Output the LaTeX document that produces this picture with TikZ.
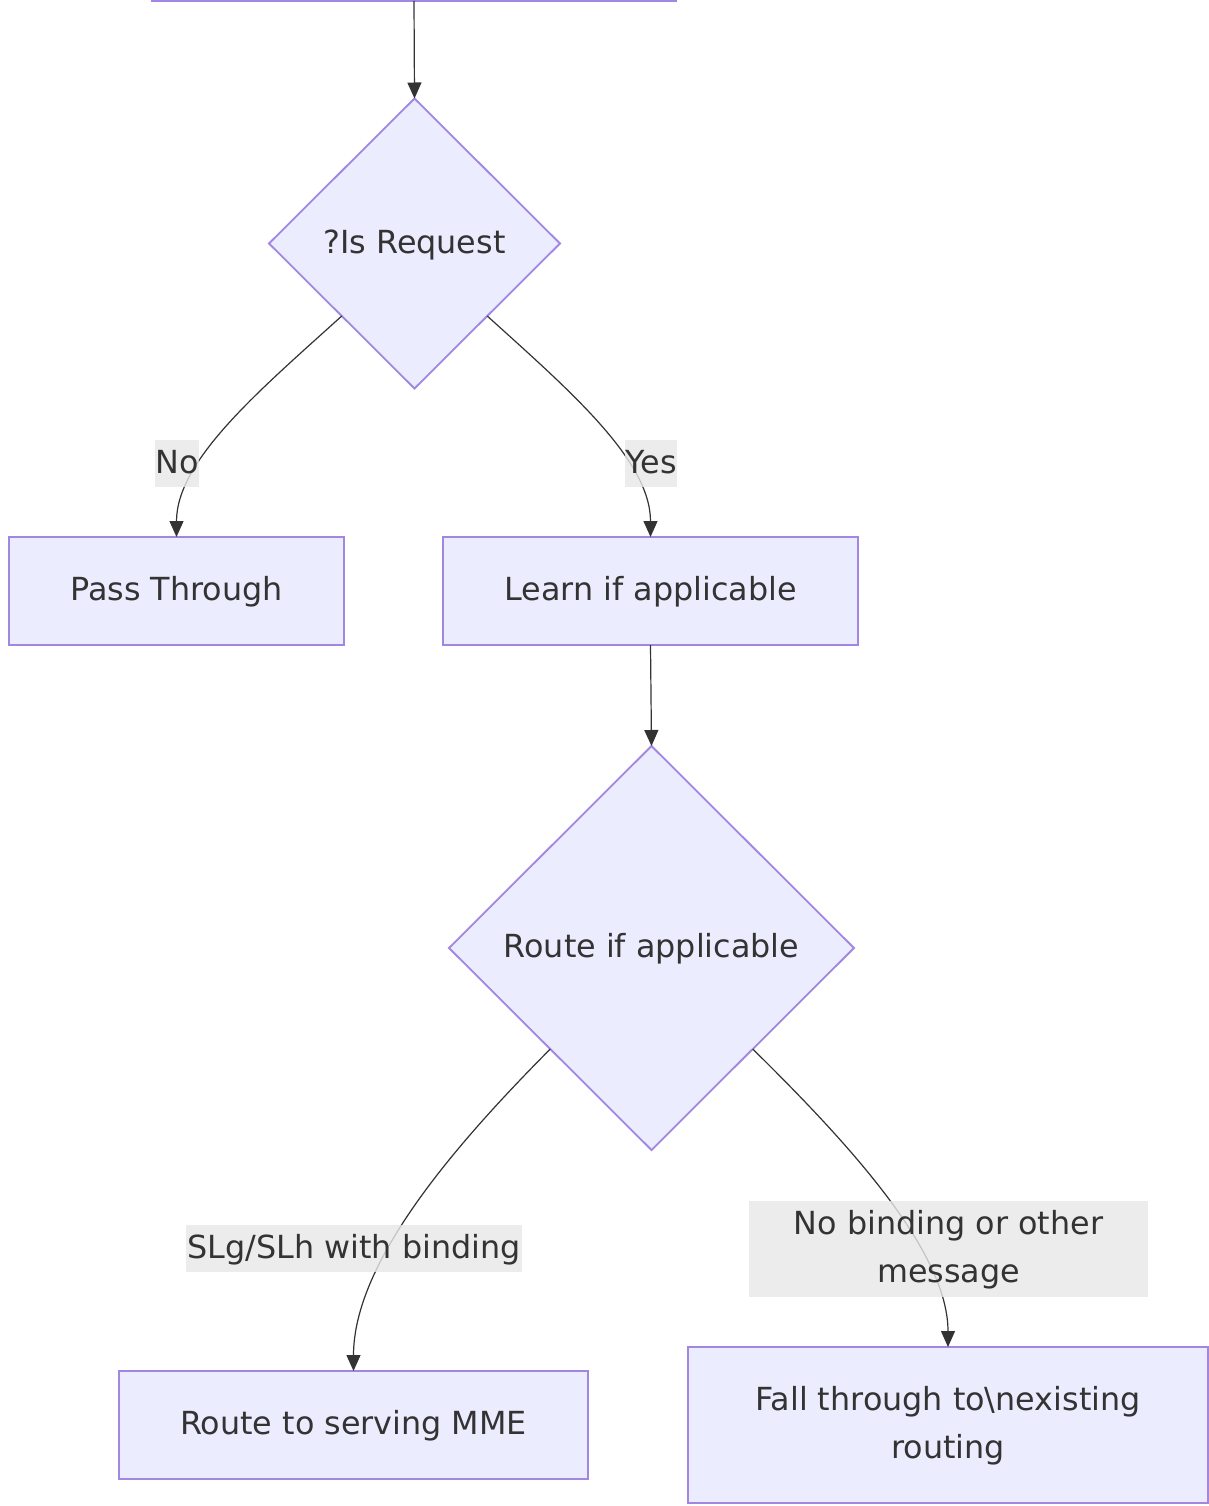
\documentclass[tikz,border=0pt]{standalone}
\usepackage{fontspec}
\setmainfont{DejaVu Sans}
\usetikzlibrary{shapes.geometric,arrows.meta,calc}
\definecolor{nodefill}{HTML}{ECECFF}
\definecolor{nodeline}{HTML}{A287E2}
\definecolor{ink}{HTML}{333333}
\definecolor{lblbg}{HTML}{E8E8E8}
\newcommand{\lowtxt}[1]{\raisebox{-3pt}{\begin{tabular}{@{}c@{}}#1\end{tabular}}}
\tikzset{
  box/.style={draw=nodeline,fill=nodefill,line width=1.8pt,rectangle,inner sep=0pt,outer sep=0pt,align=center,text=ink},
  dia/.style={draw=nodeline,fill=nodefill,line width=1.8pt,diamond,aspect=1,inner sep=0pt,outer sep=0pt,align=center,text=ink},
  arr/.style={draw=ink,line width=1.2pt,-{Triangle[length=16pt,width=14pt]}},
  lbl/.style={fill=lblbg,fill opacity=0.8,text opacity=1,text=ink,inner sep=0pt,outer sep=0pt,align=center},
}
\begin{document}
\begin{tikzpicture}[x=1pt,y=-1pt,font=\fontsize{31.8}{47.6}\selectfont]
\useasboundingbox (0,0) rectangle (1209,1506);
\clip (0,0) rectangle (1209,1506);
\fill[white] (0,0) rectangle (1209,1506);
% nodes
\node[box,minimum width=524pt,minimum height=100pt] (top) at (414,-49) {};
\node[dia,minimum width=291pt,minimum height=290pt] (d1) at (414.5,243.5) {\lowtxt{?Is Request}};
\node[box,minimum width=335pt,minimum height=108pt] (pass) at (176.5,591) {\lowtxt{Pass Through}};
\node[box,minimum width=415pt,minimum height=108pt] (learn) at (650.5,591) {\lowtxt{Learn if applicable}};
\node[dia,minimum width=405pt,minimum height=404pt] (d2) at (651.5,948) {\lowtxt{Route if applicable}};
\node[box,minimum width=469pt,minimum height=108pt] (mme) at (353.5,1425) {\lowtxt{Route to serving MME}};
\node[box,minimum width=520pt,minimum height=156pt] (fall) at (948,1425) {\lowtxt{Fall through to\textbackslash nexisting\\routing}};
% edges
\draw[arr] (top.south) -- (d1.north);
\draw[arr] ($(d1.west)!0.5!(d1.south)$) .. controls (260,390) and (176.5,460) .. (pass.north);
\draw[arr] ($(d1.east)!0.5!(d1.south)$) .. controls (569,390) and (650.5,460) .. (learn.north);
\draw[arr] (learn.south) -- (d2.north);
\draw[arr] ($(d2.west)!0.5!(d2.south)$) .. controls (460,1140) and (353.5,1260) .. (mme.north);
\draw[arr] ($(d2.east)!0.5!(d2.south)$) .. controls (845,1140) and (948,1250) .. (fall.north);
% labels
\node[lbl,minimum width=44pt,minimum height=47pt] (lno) at (177,463.5) {\lowtxt{No}};
\node[lbl,minimum width=52pt,minimum height=47pt] (lyes) at (651,463.5) {\lowtxt{Yes}};
\node[lbl,minimum width=336pt,minimum height=47pt] (lslg) at (354,1248.5) {\lowtxt{SLg/SLh with binding}};
\node[lbl,minimum width=399pt,minimum height=96pt] (lnob) at (948.5,1249) {\lowtxt{No binding or other\\message}};
\end{tikzpicture}
\end{document}
